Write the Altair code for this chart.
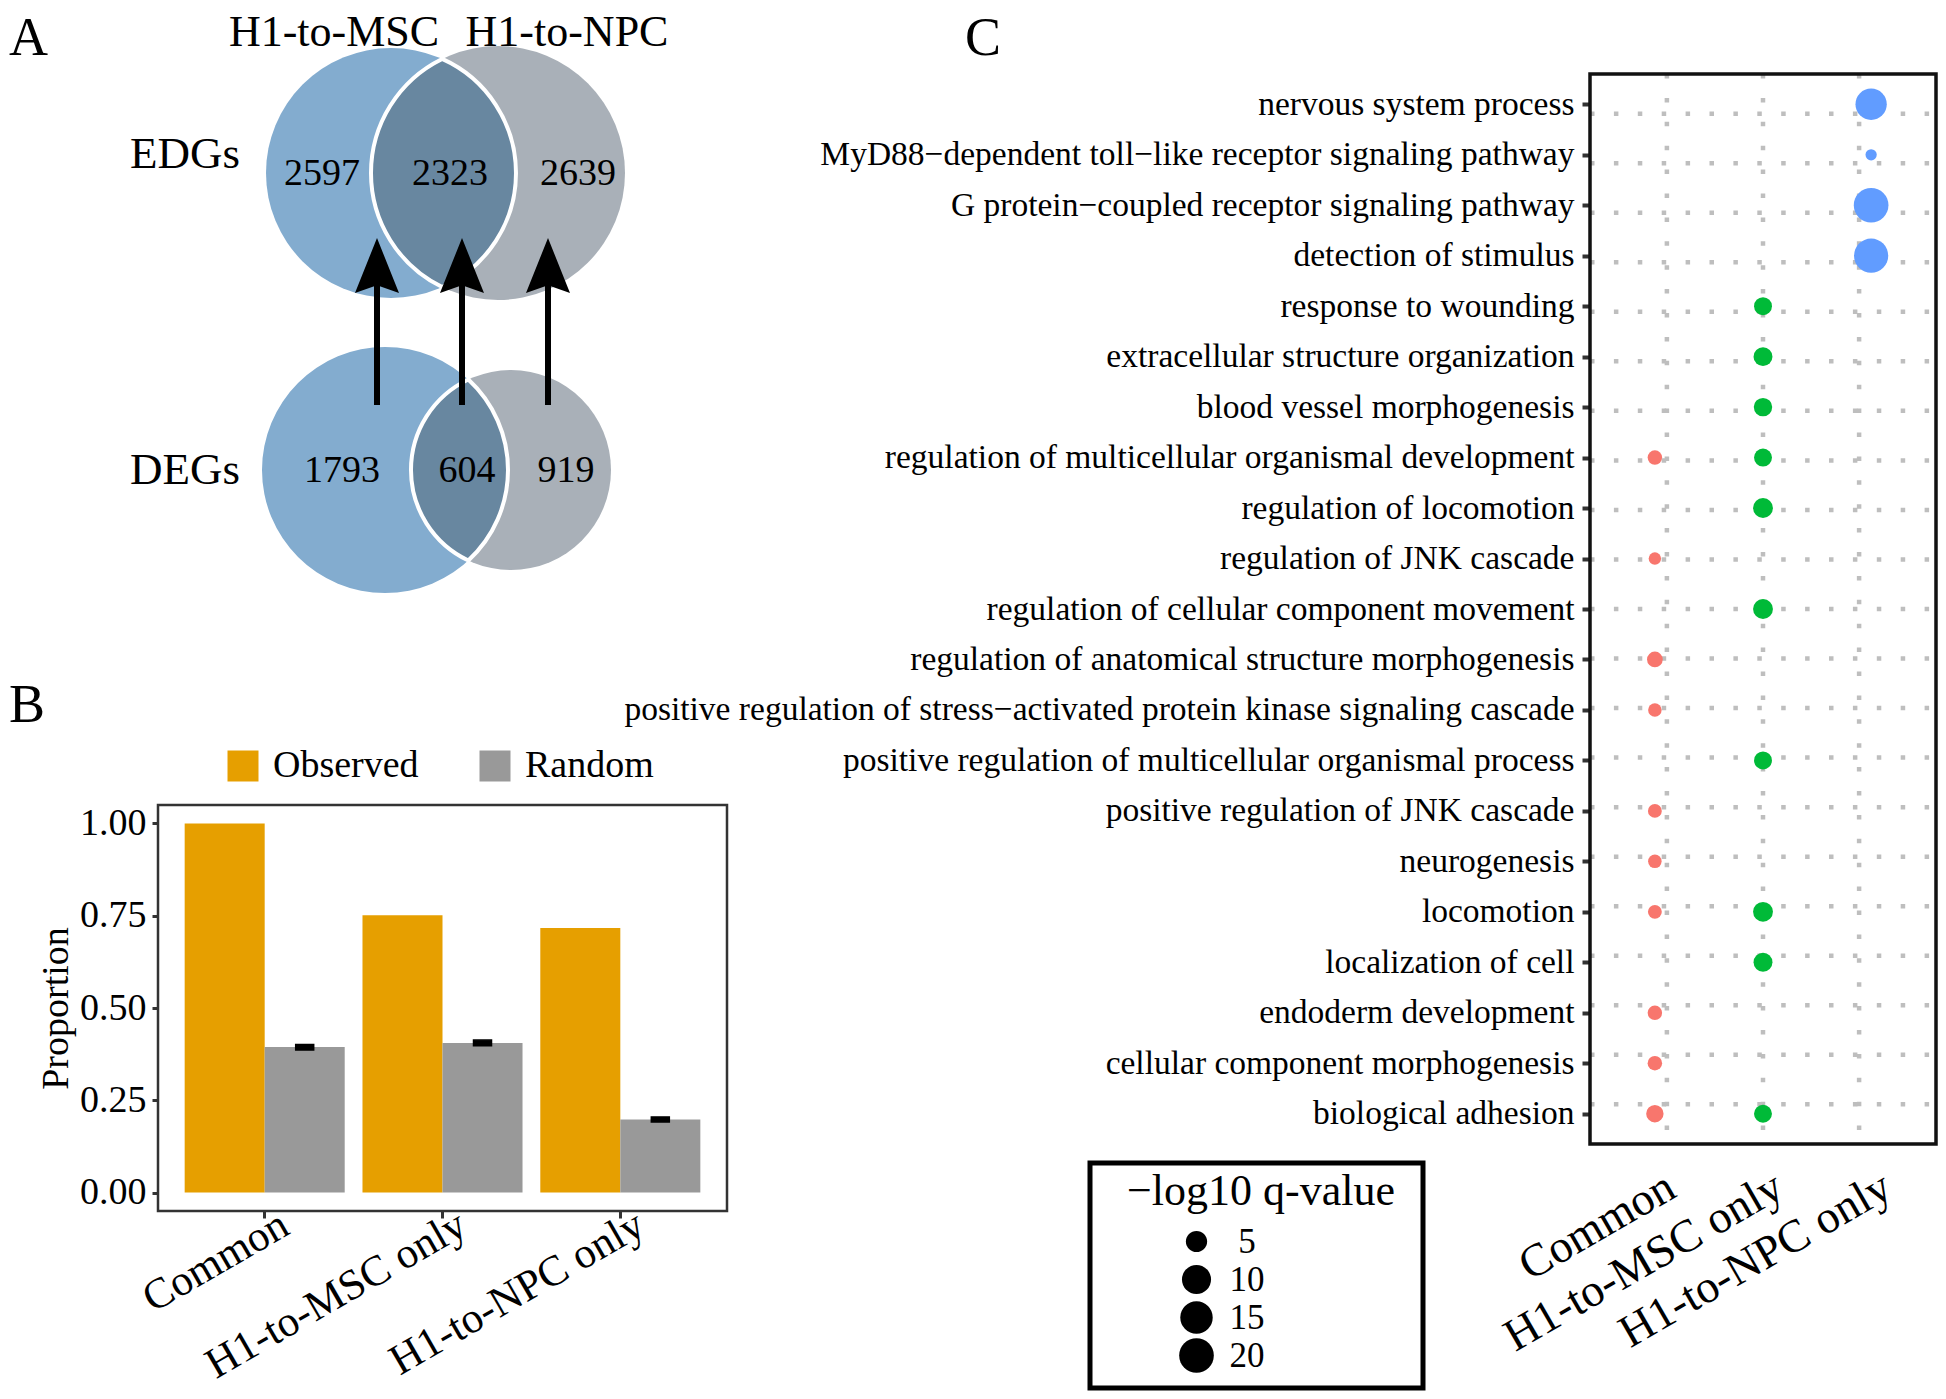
import math
import altair as alt
import pandas as pd

FONT = "Liberation Serif"
M = 8                      # html page margin
W, H = 1930, 1383          # full canvas (autosize none); fits the window with its margins

# ---------------- data: panel A (Venn) ----------------
circle_cx = [391, 498, 385, 511]
circle_cy = [173, 173, 470, 470]
circle_r = [125, 127, 123, 100]
circle_fill = ["#83ACCF", "#A9B0B8", "#83ACCF", "#A9B0B8"]
LENS_FILL = "#6887A0"

count_labels = ["2597", "2323", "2639", "1793", "604", "919"]
count_x = [322, 450, 578, 342, 467, 566]
count_y = [185, 185, 185, 482, 482, 482]

row_labels = ["EDGs", "DEGs"]
row_label_x = [240, 240]
row_label_y = [168, 484]

set_labels = ["H1-to-MSC", "H1-to-NPC"]
set_label_x = [334, 567]
set_label_y = [46, 46]

arrow_x = [377, 462, 548]
arrow_tail = [405, 405, 405]
arrow_tip = [238, 238, 238]
HEAD_LEN, HEAD_W = 55, 44

panel_letters = ["A", "B", "C"]
panel_x = [9, 9, 965]
panel_y = [55, 722, 55]

# ---------------- data: panel B ----------------
groups = ["Common", "H1-to-MSC only", "H1-to-NPC only"]
types = ["Observed", "Random"]
observed = [1.00, 0.751, 0.717]
random_mean = [0.394, 0.405, 0.198]
random_lo = [0.386, 0.398, 0.191]
random_hi = [0.401, 0.413, 0.205]

# ---------------- data: panel C ----------------
terms = [
    "nervous system process",
    "MyD88\u2212dependent toll\u2212like receptor signaling pathway",
    "G protein\u2212coupled receptor signaling pathway",
    "detection of stimulus",
    "response to wounding",
    "extracellular structure organization",
    "blood vessel morphogenesis",
    "regulation of multicellular organismal development",
    "regulation of locomotion",
    "regulation of JNK cascade",
    "regulation of cellular component movement",
    "regulation of anatomical structure morphogenesis",
    "positive regulation of stress\u2212activated protein kinase signaling cascade",
    "positive regulation of multicellular organismal process",
    "positive regulation of JNK cascade",
    "neurogenesis",
    "locomotion",
    "localization of cell",
    "endoderm development",
    "cellular component morphogenesis",
    "biological adhesion",
]
dot_term = [0, 1, 2, 3, 4, 5, 6, 7, 7, 8, 9, 10, 11, 12, 13, 14, 15, 16, 16, 17, 18, 19, 20, 20]
dot_col = ["H1-to-NPC only", "H1-to-NPC only", "H1-to-NPC only", "H1-to-NPC only",
           "H1-to-MSC only", "H1-to-MSC only", "H1-to-MSC only",
           "Common", "H1-to-MSC only", "H1-to-MSC only", "Common", "H1-to-MSC only",
           "Common", "Common", "H1-to-MSC only", "Common", "Common",
           "Common", "H1-to-MSC only", "H1-to-MSC only", "Common", "Common",
           "Common", "H1-to-MSC only"]
dot_q = [13.3, 1.5, 20.0, 19.0,
         3.6, 4.0, 3.8,
         2.4, 3.6, 4.4, 1.8, 4.4,
         2.8, 2.1, 3.6, 2.2, 2.1,
         2.2, 4.4, 4.0, 2.4, 2.4,
         3.4, 3.6]
legend_q = [5, 10, 15, 20]

# ---------------- layout (reference pixel coordinates) ----------------
B_BOX = (158, 805, 727, 1211)
C_BOX = (1590, 74, 1936, 1144)
LEG_BOX = (1090, 1163, 1423, 1388)
LEG_TITLE = ("\u2212log10 q-value", 1127, 1205)

XC = alt.Scale(domain=[M, M + W], range=[0, W])
YC = alt.Scale(domain=[M, M + H], range=[0, H])


def cx(v):
    return alt.X(v, type="quantitative", scale=XC, axis=None)


def cy(v):
    return alt.Y(v, type="quantitative", scale=YC, axis=None)


layers = []

# circles
df_circ = pd.DataFrame({"x": circle_cx, "y": circle_cy,
                        "s": [(2 * r) ** 2 for r in circle_r], "f": circle_fill})
layers.append(alt.Chart(df_circ).mark_point(shape="circle", filled=True, opacity=1, strokeWidth=0).encode(
    x=cx("x"), y=cy("y"), size=alt.Size("s:Q", scale=None), color=alt.Color("f:N", scale=None)))


# lenses (intersection of each pair of circles)
def lens(i, j):
    x1, y1, r1 = circle_cx[i], circle_cy[i], circle_r[i]
    x2, r2 = circle_cx[j], circle_r[j]
    d = x2 - x1
    a = (d * d + r1 * r1 - r2 * r2) / (2 * d)
    h = math.sqrt(r1 * r1 - a * a)
    s = max(r1, r2)
    p = (f"M0,{-h / s:.4f}A{r2 / s:.4f},{r2 / s:.4f} 0 0,0 0,{h / s:.4f}"
         f"A{r1 / s:.4f},{r1 / s:.4f} 0 0,0 0,{-h / s:.4f}Z")
    return x1 + a, y1, p, (2 * s) ** 2


for (i, j) in [(0, 1), (2, 3)]:
    lx, ly, p, sz = lens(i, j)
    layers.append(alt.Chart(pd.DataFrame({"x": [lx], "y": [ly]})).mark_point(
        shape=p, size=sz, filled=True, fill=LENS_FILL, opacity=1, stroke="white", strokeWidth=4).encode(
        x=cx("x"), y=cy("y")))

# arrows
df_arrow = pd.DataFrame({"x": arrow_x, "tail": arrow_tail,
                         "base": [t + HEAD_LEN - 8 for t in arrow_tip],
                         "hc": [t + HEAD_LEN / 2 for t in arrow_tip]})
layers.append(alt.Chart(df_arrow).mark_rule(color="black", strokeWidth=6).encode(
    x=cx("x"), y=cy("tail"), y2="base:Q"))
k = HEAD_W / HEAD_LEN
layers.append(alt.Chart(df_arrow).mark_point(
    shape=f"M0,-1L{-k:.3f},1L0,0.72L{k:.3f},1Z", size=HEAD_LEN ** 2, filled=True, fill="black",
    opacity=1, strokeWidth=0).encode(x=cx("x"), y=cy("hc")))


def texts(labels, xs, ys, size, align):
    df = pd.DataFrame({"t": labels, "x": xs, "y": ys})
    return alt.Chart(df).mark_text(font=FONT, fontSize=size, align=align, baseline="alphabetic",
                                   color="black").encode(x=cx("x"), y=cy("y"), text="t:N")


layers.append(texts(count_labels, count_x, count_y, 38, "center"))
layers.append(texts(row_labels, row_label_x, row_label_y, 45, "right"))
layers.append(texts(set_labels, set_label_x, set_label_y, 44, "center"))
layers.append(texts(panel_letters, panel_x, panel_y, 54, "left"))
layers.append(texts([LEG_TITLE[0]], [LEG_TITLE[1]], [LEG_TITLE[2]], 44, "left"))


def frame(box, color, width):
    df = pd.DataFrame({"x": [box[0]], "x2": [box[2]], "y": [box[1]], "y2": [box[3]]})
    return alt.Chart(df).mark_rect(filled=False, stroke=color, strokeWidth=width).encode(
        x=cx("x"), x2="x2:Q", y=cy("y"), y2="y2:Q")


# ---------------- panel B ----------------
def bx_scale():
    return alt.Scale(domain=groups, range=[B_BOX[0] - M, B_BOX[2] - M], paddingInner=0.1, paddingOuter=0.15)


def by_scale():
    return alt.Scale(domain=[-0.05, 1.05], range=[B_BOX[3] - M, B_BOX[1] - M], nice=False, zero=False)


def bxo_scale():
    return alt.Scale(domain=types, paddingInner=0, paddingOuter=0)


df_b = pd.DataFrame({
    "group": groups * 2,
    "type": ["Observed"] * 3 + ["Random"] * 3,
    "value": observed + random_mean,
})
df_err = pd.DataFrame({"group": groups, "type": ["Random"] * 3, "lo": random_lo, "hi": random_hi})

bx_axis = alt.Axis(orient="bottom", offset=(B_BOX[3] - M) - H, domain=False, grid=False, title=None,
                   ticks=True, tickSize=7, tickWidth=3, tickColor="#333333",
                   labelAngle=330, labelAlign="right", labelBaseline="top", labelFontSize=43,
                   labelPadding=-15, labelOffset=10, labelLimit=2000, labelColor="black")
by_axis = alt.Axis(orient="left", offset=-(B_BOX[0] - M), domain=False, grid=False,
                   values=[0, 0.25, 0.5, 0.75, 1.0], format=".2f",
                   tickSize=6, tickWidth=3, tickColor="#333333", labelFontSize=38, labelPadding=6,
                   labelColor="black", title="Proportion", titleFontSize=38, titleFontWeight="normal",
                   titlePadding=4, titleColor="black")
b_legend = alt.Legend(orient="none", legendX=216, legendY=739, direction="horizontal", columns=2,
                      title=None, symbolType="square", symbolSize=961, symbolStrokeWidth=0,
                      labelFontSize=38, labelOffset=11, columnPadding=57, padding=0, labelColor="black")

bars = alt.Chart(df_b).mark_bar().encode(
    x=alt.X("group:N", scale=bx_scale(), axis=bx_axis, sort=groups),
    xOffset=alt.XOffset("type:N", scale=bxo_scale(), sort=types),
    y=alt.Y("value:Q", scale=by_scale(), axis=by_axis),
    y2=alt.Y2(datum=0),
    color=alt.Color("type:N", scale=alt.Scale(domain=types, range=["#E69F00", "#999999"]), legend=b_legend),
)
errs = alt.Chart(df_err).mark_bar(color="black", size=18, stroke="black", strokeWidth=1.5).encode(
    x=alt.X("group:N", scale=bx_scale(), axis=None, sort=groups),
    xOffset=alt.XOffset("type:N", scale=bxo_scale(), sort=types),
    y=alt.Y("lo:Q", scale=by_scale(), axis=None),
    y2="hi:Q",
)


# ---------------- panel C ----------------
def cx_scale():
    return alt.Scale(domain=groups, range=[C_BOX[0] - M, C_BOX[2] - M], padding=0.6)


def cy_scale():
    return alt.Scale(domain=terms, range=[C_BOX[1] - M, C_BOX[3] - M], padding=0.6)


SZ = alt.Scale(domain=[1, 5, 10, 15, 20], range=[80, 451, 845, 1051, 1201], nice=False, zero=False)

cx_axis = alt.Axis(orient="bottom", offset=(C_BOX[3] - M) - H, domain=False, grid=False, ticks=False,
                   title=None, labelAngle=330, labelAlign="right", labelBaseline="top", labelFontSize=46,
                   labelPadding=20, labelOffset=5, labelLimit=2000, labelColor="black")
cy_axis = alt.Axis(orient="left", offset=-(C_BOX[0] - M), domain=False, grid=False, title=None,
                   tickSize=8, tickWidth=4, tickColor="#333333", labelFontSize=33.5, labelPadding=8,
                   labelLimit=2000, labelColor="black")
size_legend = alt.Legend(orient="none", legendX=1171, legendY=1216, title=None, values=legend_q,
                         symbolType="circle", symbolFillColor="black", symbolStrokeColor="black",
                         symbolStrokeWidth=0, symbolOpacity=1, labelFontSize=35, labelAlign="center",
                         labelOffset=33, rowPadding=2, padding=0, labelColor="black")

GRID = dict(color="#BEBEBE", strokeWidth=4.5, strokeDash=[4.5, 19.4])
df_cols = pd.DataFrame({"col": groups})
df_terms = pd.DataFrame({"term": terms})
vgrid = alt.Chart(df_cols).mark_rule(**GRID).encode(
    x=alt.X("col:N", scale=cx_scale(), axis=None, sort=groups),
    y=alt.value(C_BOX[1] - M), y2=alt.value(C_BOX[3] - M))
hgrid = alt.Chart(df_terms).mark_rule(**GRID).encode(
    y=alt.Y("term:N", scale=cy_scale(), axis=None, sort=terms),
    x=alt.value(C_BOX[0] - M), x2=alt.value(C_BOX[2] - M))

df_c = pd.DataFrame({"term": [terms[i] for i in dot_term], "col": dot_col, "q": dot_q})
dots = alt.Chart(df_c).mark_circle(opacity=1).encode(
    x=alt.X("col:N", scale=cx_scale(), axis=cx_axis, sort=groups),
    y=alt.Y("term:N", scale=cy_scale(), axis=cy_axis, sort=terms),
    color=alt.Color("col:N", scale=alt.Scale(domain=groups, range=["#F8766D", "#00BA38", "#619CFF"]),
                    legend=None),
    size=alt.Size("q:Q", scale=SZ, legend=size_legend),
)

layers_all = layers + [bars, errs, vgrid, hgrid, dots,
                       frame(B_BOX, "#333333", 2.5), frame(C_BOX, "#111111", 3.5),
                       frame(LEG_BOX, "#000000", 5)]

chart = alt.layer(*layers_all).resolve_scale(
    x="independent", y="independent", color="independent", size="independent", xOffset="independent"
).resolve_axis(x="independent", y="independent").properties(
    width=W, height=H, autosize=alt.AutoSizeParams(type="none"), padding=0
).configure_view(stroke=None).configure_axis(
    labelFont=FONT, titleFont=FONT
).configure_legend(labelFont=FONT, titleFont=FONT, symbolBaseFillColor="black")

chart.save("out.html", embed_options={"renderer": "svg", "actions": False})
